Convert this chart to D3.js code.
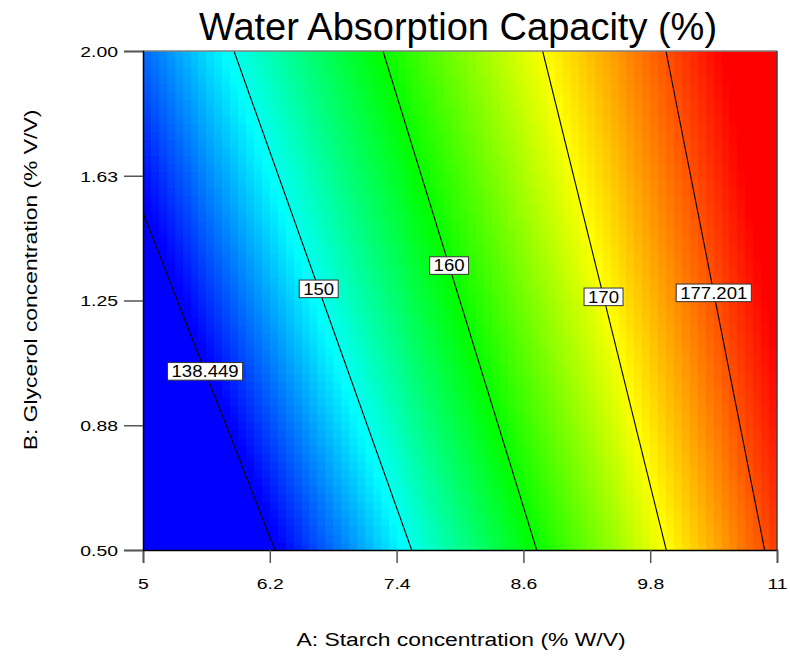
<!DOCTYPE html>
<html>
<head>
<meta charset="utf-8">
<script src="https://cdn.jsdelivr.net/npm/d3@7/dist/d3.min.js"></script>
<style>
  html, body { margin: 0; padding: 0; background: #ffffff; }
  svg { display: block; font-family: "Liberation Sans", Arial, sans-serif; }
</style>
</head>
<body>
<svg id="chart" width="790" height="657"></svg>
<script>
// Axis ticks
const starchTicks = [5, 6.2, 7.4, 8.6, 9.8, 11];
const glycerolTicks = [0.5, 0.875, 1.25, 1.625, 2.0];
const glycerolTickLabels = ["0.50", "0.88", "1.25", "1.63", "2.00"];

// Contour levels of water absorption capacity (%)
const levels = [138.449, 150, 160, 170, 177.201];
const levelLabels = ["138.449", "150", "160", "170", "177.201"];
// Starch concentration where each contour meets Glycerol = 0.50 and Glycerol = 2.00
const starchAtGlycerolLow = [6.249, 7.543, 8.726, 9.952, 10.883];
const starchAtGlycerolHigh = [4.401, 5.861, 7.271, 8.782, 9.949];
// Glycerol value where each contour label sits
const labelGlycerol = [1.037, 1.285, 1.355, 1.261, 1.273];

// Colour ramp of the response surface
const colorValues = [139, 149.375, 159.75, 170.125, 180.5];
const colorNames = ["#0000ff", "#00ffff", "#00ff00", "#ffff00", "#ff0000"];

const svg = d3.select("#chart");
const plotLeft = 143, plotRight = 777, plotTop = 51, plotBottom = 550;

const x = d3.scaleLinear().domain([5, 11]).range([plotLeft, plotRight]);
const y = d3.scaleLinear().domain([0.5, 2.0]).range([plotBottom, plotTop]);
const color = d3.scaleLinear().domain(colorValues).range(colorNames).clamp(true);

const gMin = 0.5, gMax = 2.0;
function contourStarch(k, g) {
  const t = (g - gMin) / (gMax - gMin);
  return starchAtGlycerolLow[k] + t * (starchAtGlycerolHigh[k] - starchAtGlycerolLow[k]);
}
// Response along a row of constant glycerol, from the contour positions
function responseAt(a, g) {
  const pos = levels.map((_, k) => contourStarch(k, g));
  return d3.scaleLinear().domain(pos).range(levels)(a);
}

// Colour field, drawn as a grid of cells
const nCols = 80, nRows = 62;
const dA = 6 / nCols, dG = 1.5 / nRows;
const cells = [];
for (let j = 0; j < nRows; j++) {
  for (let i = 0; i < nCols; i++) {
    const a0 = 5 + i * dA, g0 = 0.5 + j * dG;
    cells.push({ a0, g0, v: responseAt(a0 + dA / 2, g0 + dG / 2) });
  }
}
svg.append("defs").append("clipPath").attr("id", "plotClip")
  .append("rect").attr("x", plotLeft).attr("y", plotTop)
  .attr("width", plotRight - plotLeft).attr("height", plotBottom - plotTop);

const field = svg.append("g").attr("clip-path", "url(#plotClip)");
field.selectAll("rect.cell").data(cells).join("rect")
  .attr("class", "cell")
  .attr("x", d => x(d.a0))
  .attr("y", d => y(d.g0 + dG))
  .attr("width", d => x(d.a0 + dA) - x(d.a0) + 0.6)
  .attr("height", d => y(d.g0) - y(d.g0 + dG) + 0.6)
  .attr("fill", d => color(d.v))
  .attr("shape-rendering", "crispEdges");

// Contour lines
const lines = levels.map((lv, k) => ({ k, lv }));
field.selectAll("line.contour").data(lines).join("line")
  .attr("class", "contour")
  .attr("x1", d => x(starchAtGlycerolLow[d.k])).attr("y1", y(gMin))
  .attr("x2", d => x(starchAtGlycerolHigh[d.k])).attr("y2", y(gMax))
  .attr("stroke", "#000").attr("stroke-width", 1.1);

// Frame
svg.append("line").attr("x1", plotLeft).attr("x2", plotRight).attr("y1", plotTop).attr("y2", plotTop)
  .attr("stroke", "#808080").attr("stroke-width", 1.5);
svg.append("line").attr("x1", plotRight).attr("x2", plotRight).attr("y1", plotTop).attr("y2", plotBottom)
  .attr("stroke", "#404040").attr("stroke-width", 1.5);

function widen(sel, f) {
  sel.each(function () {
    const w = this.getComputedTextLength();
    d3.select(this).attr("textLength", w * f).attr("lengthAdjust", "spacingAndGlyphs");
  });
}

// Axes
const xAxis = svg.append("g").attr("transform", `translate(0,${plotBottom})`)
  .call(d3.axisBottom(x).tickValues(starchTicks).tickFormat(d3.format("")).tickSizeOuter(0).tickSize(13));
const yAxis = svg.append("g").attr("transform", `translate(${plotLeft},0)`)
  .call(d3.axisLeft(y).tickValues(glycerolTicks).tickFormat((d, i) => glycerolTickLabels[i]).tickSizeOuter(0).tickSize(19).tickPadding(6));

[xAxis, yAxis].forEach(ax => {
  ax.select(".domain").attr("stroke", "#000").attr("stroke-width", 1.5);
  ax.selectAll(".tick line").attr("stroke", "#555").attr("stroke-width", 1.5);
  ax.selectAll(".tick text").attr("fill", "#000")
    .style("font-size", "15.5px").style("font-family", "'Liberation Sans', Arial, sans-serif");
});
xAxis.selectAll(".tick text").attr("y", 39).attr("dy", 0);
yAxis.selectAll(".tick text").attr("dy", "0.35em");
widen(xAxis.selectAll(".tick text"), 1.25);
widen(yAxis.selectAll(".tick text"), 1.25);

// Contour labels
const labelG = svg.append("g");
levels.forEach((lv, k) => {
  const cx = x(contourStarch(k, labelGlycerol[k]));
  const cy = y(labelGlycerol[k]);
  const g = labelG.append("g");
  const rect = g.append("rect");
  const t = g.append("text")
    .attr("x", cx).attr("y", cy + 5.7)
    .attr("text-anchor", "middle")
    .style("font-size", "16px").attr("fill", "#000")
    .text(levelLabels[k]);
  const w = t.node().getComputedTextLength() * 1.16;
  t.attr("textLength", w).attr("lengthAdjust", "spacingAndGlyphs");
  rect.attr("x", cx - w / 2 - 4).attr("y", cy - 8.8)
    .attr("width", w + 8).attr("height", 17.6)
    .attr("fill", "#fff").attr("stroke", "#333").attr("stroke-width", 1);
});

// Title and axis titles
svg.append("text").attr("x", 458).attr("y", 40).attr("text-anchor", "middle")
  .style("font-size", "38px").attr("fill", "#000")
  .text("Water Absorption Capacity (%)");

const xt = svg.append("text").attr("x", 461).attr("y", 646).attr("text-anchor", "middle")
  .style("font-size", "18px").attr("fill", "#000")
  .text("A: Starch concentration (% W/V)");
widen(xt, 1.27);

const yt = svg.append("text").attr("transform", "translate(37,280) rotate(-90)")
  .attr("text-anchor", "middle")
  .style("font-size", "18px").attr("fill", "#000")
  .text("B: Glycerol concentration (% V/V)");
widen(yt, 1.27);
</script>
</body>
</html>
